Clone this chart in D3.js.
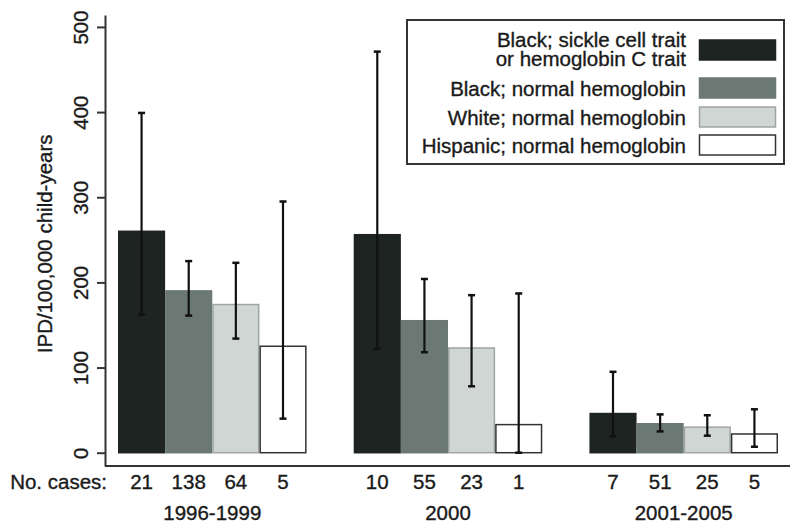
<!DOCTYPE html>
<html>
<head>
<meta charset="utf-8">
<script src="https://cdn.jsdelivr.net/npm/d3@7"></script>
<style>
  html, body { margin: 0; padding: 0; background: #fff; }
  svg { display: block; font-family: "Liberation Sans", Arial, sans-serif; }
  svg text { stroke: #1a1a1a; stroke-width: 0.35px; }
</style>
</head>
<body>
<svg id="chart" width="800" height="528"></svg>
<script>
// ---- data ----
const periods = ["1996-1999", "2000", "2001-2005"];
const groups = [
  "Black; sickle cell trait|or hemoglobin C trait",
  "Black; normal hemoglobin",
  "White; normal hemoglobin",
  "Hispanic; normal hemoglobin"
];
// rates per 100,000 child-years, by period (rows) and group (columns)
const rates = [
  [260, 190, 174, 125],
  [256, 155, 123, 33],
  [46, 34, 30, 22]
];
const lowerCI = [
  [162, 161, 134, 40],
  [122, 118, 78, 0],
  [19, 25, 20, 7]
];
const upperCI = [
  [399, 225, 223, 295],
  [471, 204, 185, 187],
  [95, 45, 44, 51]
];
const cases = [
  [21, 138, 64, 5],
  [10, 55, 23, 1],
  [7, 51, 25, 5]
];
const yTicks = [0, 100, 200, 300, 400, 500];

// ---- styles ----
const fills = ["#1e2422", "#6b7873", "#cfd6d3", "#ffffff"];
const strokes = ["#1e2422", "#6b7873", "#9ea5a2", "#333"];
const ink = "#1a1a1a";
const fs = 20.5;

const svg = d3.select("#chart");

const x0 = d3.scaleBand().domain(periods).range([118, 778]).paddingInner(0.2).paddingOuter(0);
const x1 = d3.scaleBand().domain(d3.range(groups.length)).range([0, x0.bandwidth()]).padding(0);
const y = d3.scaleLinear().domain([-15.6, 514]).range([466, 15]);

// y axis
const yAxis = d3.axisLeft(y).tickValues(yTicks).tickSize(8).tickSizeOuter(0).tickFormat(d3.format("d"));
const gy = svg.append("g").attr("transform", "translate(105,0)").call(yAxis);
gy.select(".domain").attr("stroke", "#333").attr("stroke-width", 2);
gy.selectAll(".tick line").attr("stroke", "#333").attr("stroke-width", 2);
gy.selectAll(".tick text")
  .attr("fill", ink).attr("font-size", fs)
  .attr("transform", "rotate(-90)")
  .attr("x", 0).attr("y", -17)
  .attr("dy", 0)
  .attr("text-anchor", "middle");

// x axis baseline
svg.append("line")
  .attr("x1", 105).attr("x2", 790)
  .attr("y1", y(-15.6)).attr("y2", y(-15.6))
  .attr("stroke", "#333").attr("stroke-width", 2);

// y title
svg.append("text")
  .attr("transform", `translate(52,${(y(0) + y(500)) / 2 + 4}) rotate(-90)`)
  .attr("text-anchor", "middle")
  .attr("font-size", fs)
  .attr("fill", ink)
  .text("IPD/100,000 child-years");

// bars
const pg = svg.selectAll("g.period").data(periods).join("g")
  .attr("class", "period")
  .attr("transform", d => `translate(${x0(d)},0)`);

pg.each(function(p, pi) {
  const g = d3.select(this);
  const rows = groups.map((gname, gi) => ({
    gi, v: rates[pi][gi], lo: lowerCI[pi][gi], hi: upperCI[pi][gi], n: cases[pi][gi]
  }));
  g.selectAll("rect").data(rows).join("rect")
    .attr("x", d => x1(d.gi) + 0.75)
    .attr("width", x1.bandwidth() - 1.5)
    .attr("y", d => y(d.v))
    .attr("height", d => y(0) - y(d.v))
    .attr("fill", d => fills[d.gi])
    .attr("stroke", d => strokes[d.gi])
    .attr("stroke-width", 1.5);

  const cx = d => x1(d.gi) + x1.bandwidth() / 2;
  const eb = g.selectAll("g.err").data(rows).join("g").attr("class", "err");
  eb.append("line")
    .attr("x1", cx).attr("x2", cx)
    .attr("y1", d => y(d.lo)).attr("y2", d => y(d.hi))
    .attr("stroke", "#111").attr("stroke-width", 2.2);
  [d => d.lo, d => d.hi].forEach(acc => {
    eb.append("line")
      .attr("x1", d => cx(d) - 3.5).attr("x2", d => cx(d) + 3.5)
      .attr("y1", d => y(acc(d))).attr("y2", d => y(acc(d)))
      .attr("stroke", "#111").attr("stroke-width", 2.5);
  });

  g.selectAll("text.n").data(rows).join("text")
    .attr("class", "n")
    .attr("x", cx).attr("y", 489)
    .attr("text-anchor", "middle")
    .attr("font-size", fs).attr("fill", ink)
    .text(d => d.n);

  g.append("text")
    .attr("x", x0.bandwidth() / 2).attr("y", 520)
    .attr("text-anchor", "middle")
    .attr("font-size", fs).attr("fill", ink)
    .text(p);
});

svg.append("text")
  .attr("x", 107).attr("y", 489)
  .attr("text-anchor", "end")
  .attr("font-size", fs).attr("fill", ink)
  .text("No. cases:");

// legend
const lg = svg.append("g");
lg.append("rect")
  .attr("x", 407).attr("y", 20).attr("width", 377).attr("height", 144)
  .attr("fill", "#fff").attr("stroke", "#333").attr("stroke-width", 2);
const swY = [40, 78, 107, 135];
const txtY = [[47, 66], [96], [125], [153]];
groups.forEach((gname, gi) => {
  lg.append("rect")
    .attr("x", 699.5).attr("y", swY[gi]).attr("width", 76).attr("height", 20)
    .attr("fill", fills[gi]).attr("stroke", strokes[gi]).attr("stroke-width", 1.5);
  gname.split("|").forEach((line, li) => {
    lg.append("text")
      .attr("x", 686).attr("y", txtY[gi][li])
      .attr("text-anchor", "end")
      .attr("font-size", fs).attr("fill", ink)
      .text(line);
  });
});
</script>
</body>
</html>
